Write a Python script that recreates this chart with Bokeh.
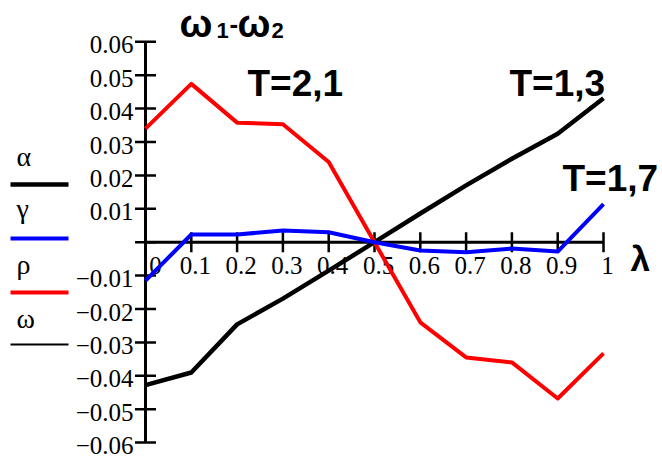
import math

from bokeh.core.properties import value
from bokeh.embed import file_html
from bokeh.models import BoxAnnotation, Label, Range1d
from bokeh.plotting import figure
from bokeh.resources import INLINE

# ---- data -------------------------------------------------------------
lam = [0.0, 0.1, 0.2, 0.3, 0.4, 0.5, 0.6, 0.7, 0.8, 0.9, 1.0]
alpha = [-0.0428, -0.0390, -0.0246, -0.0169, -0.0085, 0.0,
         0.0086, 0.0170, 0.0250, 0.0325, 0.0431]
gamma = [-0.0115, 0.0023, 0.0023, 0.0035, 0.0030, 0.0,
         -0.0025, -0.0030, -0.0019, -0.0028, 0.0114]
rho = [0.0340, 0.0474, 0.0358, 0.0353, 0.0240, 0.0,
       -0.0240, -0.0345, -0.0360, -0.0468, -0.0333]

x_ticks = [0.0, 0.1, 0.2, 0.3, 0.4, 0.5, 0.6, 0.7, 0.8, 0.9, 1.0]
x_tick_labels = ["0", "0.1", "0.2", "0.3", "0.4", "0.5", "0.6", "0.7", "0.8", "0.9", "1"]
y_ticks = [-0.06, -0.05, -0.04, -0.03, -0.02, -0.01, 0.0,
           0.01, 0.02, 0.03, 0.04, 0.05, 0.06]
y_tick_labels = ["\u22120.06", "\u22120.05", "\u22120.04", "\u22120.03", "\u22120.02",
                 "\u22120.01", "", "0.01", "0.02", "0.03", "0.04", "0.05", "0.06"]

series_names = ["\u03b1", "\u03b3", "\u03c1", "\u03c9"]
series_colors = ["black", "#0000ff", "#ff0000", "black"]

W, H = 662, 458
SERIF = "Liberation Serif"
SANS = "Liberation Sans"

p = figure(width=W, height=H,
           x_range=Range1d(-0.3166, 1.1288), y_range=Range1d(-0.06476, 0.07237),
           x_axis_type=None, y_axis_type=None,
           toolbar_location=None, output_backend="svg", min_border=0)
p.outline_line_color = None
p.background_fill_color = "white"
p.border_fill_color = "white"

# ---- axes crossing at the origin ---------------------------------------
p.segment(x0=[0], y0=[min(y_ticks)], x1=[0], y1=[max(y_ticks)],
          line_color="black", line_width=3)
p.segment(x0=[min(x_ticks)], y0=[0], x1=[max(x_ticks)], y1=[0],
          line_color="black", line_width=3)
p.scatter(x=[0] * len(y_ticks), y=y_ticks, marker="dash", size=21,
          line_color="black", line_width=2.5)
p.scatter(x=x_ticks, y=[0] * len(x_ticks), marker="dash", size=20,
          angle=math.pi / 2, line_color="black", line_width=2.5)

p.text(x=[0] * len(y_ticks), y=y_ticks, text=y_tick_labels,
       text_font=value(SERIF), text_font_size="25px", text_color="black",
       text_align="right", text_baseline="alphabetic", x_offset=-12, y_offset=3)
x_offsets = [10 if t == 0 else 4 for t in x_ticks]
p.text(x=x_ticks, y=[0] * len(x_ticks), text=x_tick_labels,
       text_font=value(SERIF), text_font_size="25px", text_color="black",
       text_align="center", text_baseline="alphabetic", x_offset=x_offsets, y_offset=23)

# ---- curves -------------------------------------------------------------
p.line(lam, alpha, line_color=series_colors[0], line_width=4.5, line_join="round")
p.line(lam, rho, line_color=series_colors[2], line_width=4, line_join="round")
p.line(lam, gamma, line_color=series_colors[1], line_width=4, line_join="round")


def lbl(txt, x, y_top, size, font=SANS, style="bold"):
    """Place a text at canvas pixel x (left) and baseline y measured from the top."""
    p.add_layout(Label(x=x, y=H - y_top, x_units="screen", y_units="screen",
                       text=txt, text_font=font, text_font_size=size,
                       text_font_style=style, text_color="black",
                       text_baseline="alphabetic", text_align="left"))


# title  ω1-ω2
lbl("\u03c9", 179, 23, "39px")
lbl("1", 216, 30, "22px")
lbl("-", 229, 23, "26px")
lbl("\u03c9", 237, 23, "39px")
lbl("2", 271, 30, "22px")

# temperature annotations and axis name
lbl("T=2,1", 247, 83, "37px")
lbl("T=1,3", 509, 83, "37px")
lbl("T=1,7", 562, 178, "37px")
lbl("\u03bb", 630, 258, "35px")

# ---- legend: symbol above a sample line -------------------------------
legend_base = [156, 208, 264, 318]
legend_line = [184, 238, 292, 344]
legend_width = [4.5, 4, 4, 2]
for name, color, yb, yl, lw in zip(series_names, series_colors, legend_base,
                                   legend_line, legend_width):
    lbl(name, 16, yb, "28px", font=SERIF, style="normal")
    p.add_layout(BoxAnnotation(left=10, right=68, bottom=H - yl - lw / 2, top=H - yl + lw / 2,
                               left_units="screen", right_units="screen",
                               bottom_units="screen", top_units="screen",
                               fill_color=color, fill_alpha=1.0, line_color=None))

open("out.html", "w").write(file_html(p, INLINE))
